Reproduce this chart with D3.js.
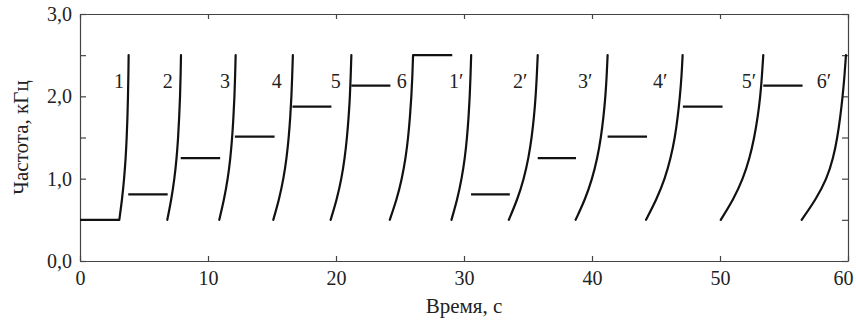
<!DOCTYPE html>
<html>
<head>
<meta charset="utf-8">
<script src="https://cdn.jsdelivr.net/npm/d3@7"></script>
<style>
  body { margin: 0; background: #fff; }
  text { font-family: "Liberation Serif", "DejaVu Serif", serif; fill: #222; }
</style>
</head>
<body>
<div class="chart"></div>
<script>
// frequency levels (kHz) at which each sweep time was read
var sweepFreqs = [0.5, 0.75, 1.0, 1.25, 1.5, 1.75, 2.0, 2.25, 2.5];

// sweep times (s) at those levels
var sweepTimes = [
  [3.07, 3.29, 3.45, 3.57, 3.65, 3.71, 3.75, 3.78, 3.80],
  [6.82, 7.14, 7.38, 7.55, 7.67, 7.75, 7.82, 7.86, 7.89],
  [10.88, 11.26, 11.55, 11.75, 11.89, 11.99, 12.07, 12.12, 12.16],
  [15.10, 15.56, 15.90, 16.14, 16.31, 16.43, 16.52, 16.58, 16.63],
  [19.58, 20.07, 20.43, 20.68, 20.86, 20.99, 21.09, 21.15, 21.20],
  [24.20, 24.75, 25.15, 25.44, 25.64, 25.78, 25.89, 25.97, 26.02],
  [29.02, 29.48, 29.82, 30.07, 30.24, 30.36, 30.45, 30.51, 30.56],
  [33.50, 34.18, 34.68, 35.04, 35.29, 35.47, 35.60, 35.69, 35.76],
  [38.72, 39.47, 40.02, 40.42, 40.70, 40.90, 41.05, 41.15, 41.22],
  [44.22, 45.05, 45.70, 46.15, 46.48, 46.70, 46.87, 47.00, 47.08],
  [50.06, 51.06, 51.80, 52.32, 52.68, 52.95, 53.15, 53.28, 53.38],
  [56.38, 57.50, 58.35, 58.85, 59.17, 59.40, 59.58, 59.73, 59.84]
];

// steady parts: start (s), end (s), level (kHz)
var plateauStart = [0, 3.77, 7.87, 12.10, 16.60, 21.20, 26.02, 30.55, 35.76, 41.22, 47.10, 53.38];
var plateauEnd = [3.07, 6.85, 10.95, 15.20, 19.64, 24.25, 29.08, 33.58, 38.75, 44.30, 50.20, 56.45];
var plateauLevel = [0.5, 0.81, 1.25, 1.51, 1.875, 2.13, 2.5, 0.81, 1.25, 1.51, 1.875, 2.13];

// curve labels and where they sit
var labelNames = ["1", "2", "3", "4", "5", "6", "1\u2032", "2\u2032", "3\u2032", "4\u2032", "5\u2032", "6\u2032"];
var labelTimes = [2.66, 6.46, 10.94, 14.98, 19.59, 24.74, 28.83, 33.83, 38.9, 44.77, 51.7, 57.55];
var labelFreq = 2.1;

var xTicks = [0, 10, 20, 30, 40, 50, 60];
var yTicks = [0, 0.5, 1.0, 1.5, 2.0, 2.5, 3.0];

var width = 856,
    height = 324,
    margin = {left: 80, right: 8, top: 14, bottom: 63};

var plotW = width - margin.left - margin.right,
    plotH = height - margin.top - margin.bottom;

var x = d3.scaleLinear().domain([0, 60]).range([0, plotW]);
var y = d3.scaleLinear().domain([0, 3]).range([plotH, 0]);

var ru = d3.formatLocale({decimal: ",", thousands: " ", grouping: [3], currency: ["", ""]});
var fmt = ru.format(".1f");

var svg = d3.select(".chart")
            .append("svg")
            .attr("width", width)
            .attr("height", height);

var g = svg.append("g")
           .attr("transform", "translate(" + margin.left + "," + margin.top + ")");

// axes, ticks pointing inward
var xAxis = d3.axisBottom(x).tickValues(xTicks).tickSizeInner(-5).tickSizeOuter(0).tickPadding(10);
var xTop = d3.axisTop(x).tickValues(xTicks).tickSizeInner(-5).tickSizeOuter(0).tickFormat("");
var yAxis = d3.axisLeft(y).tickValues(yTicks).tickSizeInner(-6).tickSizeOuter(0).tickPadding(8)
              .tickFormat(function(d) { return d % 1 === 0 ? fmt(d) : ""; });
var yRight = d3.axisRight(y).tickValues(yTicks).tickSizeInner(-6).tickSizeOuter(0).tickFormat("");

var xg = g.append("g").attr("class", "axis").attr("transform", "translate(0," + plotH + ")").call(xAxis);
g.append("g").attr("class", "axis").call(xTop);
g.append("g").attr("class", "axis").call(yAxis);
g.append("g").attr("class", "axis").attr("transform", "translate(" + plotW + ",0)").call(yRight);

g.selectAll(".axis path, .axis line")
 .attr("stroke", "#444")
 .attr("stroke-width", 1.2);

g.selectAll(".axis text")
 .style("font-size", "20px")
 .attr("fill", "#222");

// last label sits a little left so it stays on the page
xg.selectAll(".tick text")
  .filter(function(d) { return d === 60; })
  .attr("text-anchor", "end")
  .attr("dx", "5px");

// sweeps
var line = d3.line()
             .x(function(d) { return x(d[0]); })
             .y(function(d) { return y(d[1]); })
             .curve(d3.curveBasis);

g.selectAll("path.sweep")
 .data(sweepTimes)
 .enter()
   .append("path")
   .attr("class", "sweep")
   .attr("d", function(times) {
     return line(times.map(function(t, i) { return [t, sweepFreqs[i]]; }));
   })
   .attr("fill", "none")
   .attr("stroke", "#111")
   .attr("stroke-width", 2.2)
   .attr("stroke-linecap", "round");

// plateaus
g.selectAll("line.plateau")
 .data(plateauLevel)
 .enter()
   .append("line")
   .attr("class", "plateau")
   .attr("x1", function(d, i) { return x(plateauStart[i]); })
   .attr("x2", function(d, i) { return x(plateauEnd[i]); })
   .attr("y1", function(d) { return y(d); })
   .attr("y2", function(d) { return y(d); })
   .attr("stroke", "#111")
   .attr("stroke-width", 2.2);

// curve labels
g.selectAll("text.lbl")
 .data(labelNames)
 .enter()
   .append("text")
   .attr("class", "lbl")
   .attr("x", function(d, i) { return x(labelTimes[i]); })
   .attr("y", y(labelFreq))
   .style("font-size", "20px")
   .text(function(d) { return d; });

// axis titles
svg.append("text")
   .attr("x", margin.left + x(30))
   .attr("y", 313)
   .attr("text-anchor", "middle")
   .style("font-size", "21px")
   .text("Время, с");

svg.append("text")
   .attr("transform", "translate(28," + (margin.top + plotH / 2) + ") rotate(-90)")
   .attr("text-anchor", "middle")
   .style("font-size", "21px")
   .text("Частота, кГц");
</script>
</body>
</html>
